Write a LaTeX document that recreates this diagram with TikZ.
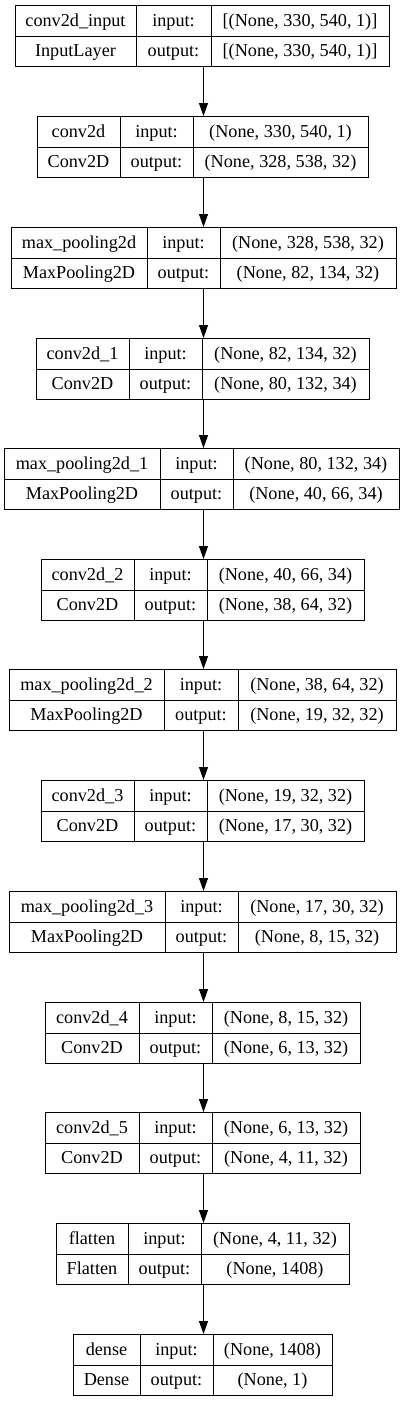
\documentclass[tikz,border=0pt]{standalone}
\usepackage{fontspec}
\setmainfont{Liberation Serif}
\usetikzlibrary{arrows.meta, positioning}

\tikzset{
  layer/.style={draw, line width=1pt, rectangle, inner sep=0pt, minimum height=61pt, anchor=north west},
  cell/.style={inner sep=0pt, text height=12pt, text depth=0pt, font=\fontsize{18.2}{22}\selectfont},
  flow/.style={-{Triangle[length=13pt,width=9pt]}, line width=1pt}
}

\begin{document}
\begin{tikzpicture}[x=1pt, y=-1pt]
\useasboundingbox (0,0) rectangle (405,1401);

% Layer boxes: left / divider 1 / divider 2 / right / top / name / class / input / output
\foreach \xl/\xa/\xb/\xr/\yt/\lname/\lclass/\shin/\shout [count=\i] in {
  15/136/211/389/5/{conv2d\_input}/{InputLayer}/{[(None, 330, 540, 1)]}/{[(None, 330, 540, 1)]},
  37/120/193/368/116/{conv2d}/{Conv2D}/{(None, 330, 540, 1)}/{(None, 328, 538, 32)},
  11/147/220/396/227/{max\_pooling2d}/{MaxPooling2D}/{(None, 328, 538, 32)}/{(None, 82, 134, 32)},
  36/129/202/369/338/{conv2d\_1}/{Conv2D}/{(None, 82, 134, 32)}/{(None, 80, 132, 34)},
  4/160/233/399/448/{max\_pooling2d\_1}/{MaxPooling2D}/{(None, 80, 132, 34)}/{(None, 40, 66, 34)},
  41/134/207/364/559/{conv2d\_2}/{Conv2D}/{(None, 40, 66, 34)}/{(None, 38, 64, 32)},
  9/164/238/396/669/{max\_pooling2d\_2}/{MaxPooling2D}/{(None, 38, 64, 32)}/{(None, 19, 32, 32)},
  41/134/207/364/780/{conv2d\_3}/{Conv2D}/{(None, 19, 32, 32)}/{(None, 17, 30, 32)},
  9/165/238/396/891/{max\_pooling2d\_3}/{MaxPooling2D}/{(None, 17, 30, 32)}/{(None, 8, 15, 32)},
  45/139/212/360/1002/{conv2d\_4}/{Conv2D}/{(None, 8, 15, 32)}/{(None, 6, 13, 32)},
  45/139/212/360/1112/{conv2d\_5}/{Conv2D}/{(None, 6, 13, 32)}/{(None, 4, 11, 32)},
  56/128/201/349/1223/{flatten}/{Flatten}/{(None, 4, 11, 32)}/{(None, 1408)},
  73/140/213/332/1334/{dense}/{Dense}/{(None, 1408)}/{(None, 1)}
}{
  \node[layer, minimum width=\xr-\xl] (L\i) at (\xl,\yt) {};
  \draw[line width=1pt] (L\i.west) -- (L\i.east);
  \draw[line width=1pt] (\xa,\yt) -- ++(0,61);
  \draw[line width=1pt] (\xb,\yt) -- ++(0,61);
  \node[cell] (L\i-name) at ({(\xl+\xa)/2},\yt+15.25) {\lname};
  \node[cell] (L\i-class) at ({(\xl+\xa)/2},\yt+45.75) {\lclass};
  \node[cell] (L\i-inlab) at ({(\xa+\xb)/2},\yt+15.25) {input:};
  \node[cell] (L\i-outlab) at ({(\xa+\xb)/2},\yt+45.75) {output:};
  \node[cell] (L\i-in) at ({(\xb+\xr)/2},\yt+15.25) {\shin};
  \node[cell] (L\i-out) at ({(\xb+\xr)/2},\yt+45.75) {\shout};
}

% Connectors
\coordinate (axis) at (203.5,0);
\foreach \i [evaluate=\i as \j using int(\i+1)] in {1,...,12}
  \draw[flow] (L\i.south -| axis) -- (L\j.north -| axis);
\end{tikzpicture}
\end{document}
